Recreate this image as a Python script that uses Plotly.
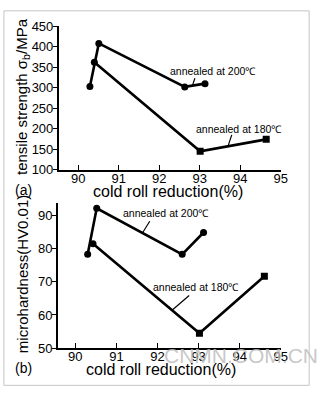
import plotly.graph_objects as go

# ---- data ----
# panel (a): tensile strength
a200_x = [90.29, 90.51, 92.63, 93.13]
a200_y = [303, 408, 302, 310]
a180_x = [90.40, 93.01, 94.64]
a180_y = [362, 145, 174]
# panel (b): microhardness
b200_x = [90.30, 90.52, 92.60, 93.12]
b200_y = [78.3, 92.2, 78.3, 84.9]
b180_x = [90.43, 93.02, 94.60]
b180_y = [81.5, 54.5, 71.7]

x_ticks = [90, 91, 92, 93, 94, 95]
a_yticks = [100, 150, 200, 250, 300, 350, 400, 450]
b_yticks = [50, 60, 70, 80, 90]

label200 = "annealed at 200℃"
label180 = "annealed at 180℃"

W, H = 324, 402
FONT = "Liberation Sans"

def px(x):
    return x / W

def py(y):
    return 1 - y / H

fig = go.Figure()
line_style = dict(color="black", width=2.6)
fig.add_trace(go.Scatter(x=a200_x, y=a200_y, mode="lines+markers", line=line_style,
                         marker=dict(symbol="circle", size=7, color="black"),
                         xaxis="x", yaxis="y", showlegend=False))
fig.add_trace(go.Scatter(x=a180_x, y=a180_y, mode="lines+markers", line=line_style,
                         marker=dict(symbol=["circle", "square", "square"], size=7, color="black"),
                         xaxis="x", yaxis="y", showlegend=False))
fig.add_trace(go.Scatter(x=b200_x, y=b200_y, mode="lines+markers", line=line_style,
                         marker=dict(symbol="circle", size=7, color="black"),
                         xaxis="x2", yaxis="y2", showlegend=False))
fig.add_trace(go.Scatter(x=b180_x, y=b180_y, mode="lines+markers", line=line_style,
                         marker=dict(symbol=["circle", "square", "square"], size=7, color="black"),
                         xaxis="x2", yaxis="y2", showlegend=False))

tickfont = dict(family=FONT, size=13, color="black")
xcommon = dict(tickvals=x_ticks, ticks="inside", ticklen=5, tickwidth=1.2, tickcolor="black",
               showline=True, linecolor="black", linewidth=1.5, showgrid=False, zeroline=False,
               tickfont=tickfont, ticklabelstandoff=-4)
ycommon = dict(ticks="outside", ticklen=4, tickwidth=1.2, tickcolor="black",
               showline=True, linecolor="black", linewidth=1.5, showgrid=False, zeroline=False,
               tickfont=tickfont, ticklabelstandoff=-3)

fig.update_layout(
    width=W, height=H, margin=dict(l=0, r=0, t=0, b=0),
    paper_bgcolor="white", plot_bgcolor="white",
    xaxis=dict(domain=[px(60), px(287)], range=[89.52, 95], anchor="y", **xcommon),
    yaxis=dict(domain=[py(169), py(20)], range=[100, 450], anchor="x", tickvals=a_yticks, **ycommon),
    xaxis2=dict(domain=[px(59), px(287)], range=[89.571, 95], anchor="y2", **xcommon),
    yaxis2=dict(domain=[py(354.3), py(203.3)], range=[50, 93.9], anchor="x2", tickvals=b_yticks, **ycommon),
)

ann = []
def paper_text(text, x, y, size=15, angle=0, color="black", family=FONT):
    ann.append(dict(text=text, x=px(x), y=py(y), xref="paper", yref="paper", showarrow=False,
                    xanchor="center", yanchor="middle", textangle=angle,
                    font=dict(family=family, size=size, color=color)))

paper_text("tensile strength σ<sub>b</sub>/MPa", 23, 93, size=15, angle=-90)
paper_text("microhardness(HV0.01)", 23, 278, size=15, angle=-90)
paper_text("cold roll reduction(%)", 172, 192, size=16)
paper_text("cold roll reduction(%)", 165, 377, size=16)
paper_text("(a)", 24, 190, size=14)
paper_text("(b)", 24, 375, size=14)
paper_text("CNMN.COM.CN", 246, 362, size=21, color="rgba(190,190,190,0.85)")

def data_text(text, x, y, xr, yr):
    ann.append(dict(text=text, x=x, y=y, xref=xr, yref=yr, showarrow=False,
                    xanchor="center", yanchor="middle",
                    font=dict(family=FONT, size=10.5, color="black")))

data_text(label200, 93.33, 340, "x", "y")
data_text(label180, 93.97, 199, "x", "y")
data_text(label200, 92.2, 90.8, "x2", "y2")
data_text(label180, 92.93, 68.4, "x2", "y2")
fig.update_layout(annotations=ann)

shapes = [
    dict(type="line", xref="x", yref="y", x0=92.88, y0=323, x1=92.82, y1=305, line=dict(color="black", width=1.2)),
    dict(type="line", xref="x", yref="y", x0=93.79, y0=185, x1=93.70, y1=158, line=dict(color="black", width=1.2)),
    dict(type="line", xref="x2", yref="y2", x0=91.81, y0=88.3, x1=91.64, y1=84.9, line=dict(color="black", width=1.2)),
    dict(type="line", xref="x2", yref="y2", x0=92.77, y0=65.9, x1=92.36, y1=61.5, line=dict(color="black", width=1.2)),
    dict(type="rect", xref="paper", yref="paper", x0=px(4), y0=py(393), x1=px(316), y1=py(4),
         line=dict(color="#c4c4c4", width=1)),
]
fig.update_layout(shapes=shapes)

fig.write_html("out.html")
